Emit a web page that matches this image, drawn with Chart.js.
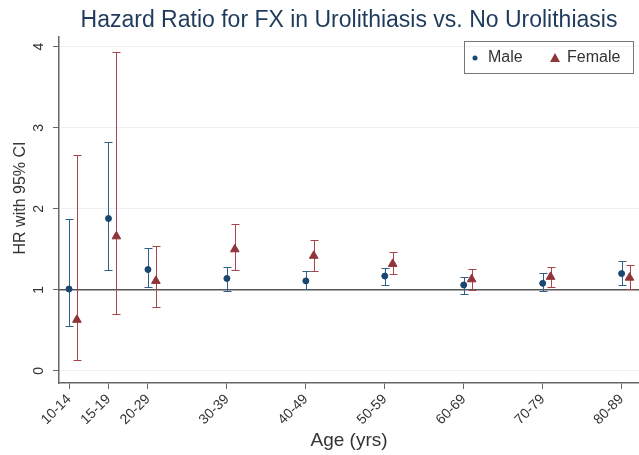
<!DOCTYPE html>
<html>
<head>
<meta charset="utf-8">
<script src="https://cdn.jsdelivr.net/npm/chart.js@4.4.1/dist/chart.umd.min.js"></script>
<style>
  html, body { margin: 0; padding: 0; background: #fff; }
</style>
</head>
<body>
<canvas id="hrChart" width="639" height="455"></canvas>
<script>
// age bands, plotted at the start of each band
const ageGroups = ["10-14", "15-19", "20-29", "30-39", "40-49", "50-59", "60-69", "70-79", "80-89"];
const ageStart = [10, 15, 20, 30, 40, 50, 60, 70, 80];

// hazard ratios with 95% CI
const maleHR   = [1.01, 1.88, 1.25, 1.14, 1.11, 1.17, 1.06, 1.08, 1.20];
const maleLow  = [0.55, 1.24, 1.03, 0.99, 1.01, 1.06, 0.95, 0.98, 1.06];
const maleHigh = [1.88, 2.83, 1.51, 1.28, 1.23, 1.27, 1.16, 1.21, 1.35];

const femaleHR   = [0.63, 1.66, 1.11, 1.50, 1.42, 1.32, 1.13, 1.16, 1.15];
const femaleLow  = [0.14, 0.70, 0.79, 1.24, 1.23, 1.19, 1.00, 1.03, 1.01];
const femaleHigh = [2.66, 3.94, 1.54, 1.81, 1.62, 1.47, 1.26, 1.28, 1.31];

const yTicks = [0, 1, 2, 3, 4];
const femaleShift = 1; // female markers sit just right of the male ones

const navy = "#1a476f";
const maroon = "#90353b";
const FONT = "'Liberation Sans', Arial, sans-serif";

Chart.defaults.font.family = FONT;

// CI whiskers, reference line, rotated y labels and legend box
const ciPlugin = {
    id: "ciBars",
    beforeDatasetsDraw(chart) {
        const ctx = chart.ctx;
        const area = chart.chartArea;
        const x = chart.scales.x;
        const y = chart.scales.y;

        ctx.save();
        let y1 = y.getPixelForValue(1);
        ctx.strokeStyle = "#555";
        ctx.lineWidth = 1.5;
        ctx.beginPath();
        ctx.moveTo(area.left, y1);
        ctx.lineTo(area.right, y1);
        ctx.stroke();

        chart.data.datasets.forEach(ds => {
            ctx.strokeStyle = ds.ciColor;
            ctx.lineWidth = 1;
            ds.data.forEach((p, j) => {
                let px = Math.round(x.getPixelForValue(p.x)) + 0.5;
                let top = Math.round(y.getPixelForValue(ds.ciHigh[j])) + 0.5;
                let bot = Math.round(y.getPixelForValue(ds.ciLow[j])) + 0.5;
                ctx.beginPath();
                ctx.moveTo(px, top);
                ctx.lineTo(px, bot);
                ctx.moveTo(px - 4, top);
                ctx.lineTo(px + 4, top);
                ctx.moveTo(px - 4, bot);
                ctx.lineTo(px + 4, bot);
                ctx.stroke();
            });
        });
        ctx.restore();
    },
    afterDraw(chart) {
        const ctx = chart.ctx;
        const area = chart.chartArea;
        const y = chart.scales.y;

        ctx.save();
        ctx.fillStyle = "#333";
        ctx.textAlign = "center";
        ctx.textBaseline = "middle";

        ctx.font = "14px " + FONT;
        y.ticks.forEach(t => {
            ctx.save();
            ctx.translate(area.left - 20, y.getPixelForValue(t.value));
            ctx.rotate(-Math.PI / 2);
            ctx.fillText(String(t.value), 0, 0);
            ctx.restore();
        });

        // y axis title
        ctx.font = "16px " + FONT;
        ctx.save();
        ctx.translate(21, (area.top + area.bottom) / 2 - 12);
        ctx.rotate(-Math.PI / 2);
        ctx.fillText("HR with 95% CI", 0, 0);
        ctx.restore();

        // legend
        let bx = area.right - 175, by = area.top + 4;
        ctx.strokeStyle = "#777";
        ctx.lineWidth = 1;
        ctx.strokeRect(bx + 0.5, by + 0.5, 169, 32);
        let cy = by + 17;
        ctx.font = "16px " + FONT;
        ctx.textAlign = "left";

        let male = chart.data.datasets[0];
        ctx.fillStyle = male.backgroundColor;
        ctx.beginPath();
        ctx.arc(bx + 11, cy, 2.5, 0, Math.PI * 2);
        ctx.fill();
        ctx.fillStyle = "#333";
        ctx.fillText(male.label, bx + 24, cy);

        let female = chart.data.datasets[1];
        ctx.fillStyle = female.backgroundColor;
        ctx.beginPath();
        ctx.moveTo(bx + 91, cy - 5);
        ctx.lineTo(bx + 96, cy + 4);
        ctx.lineTo(bx + 86, cy + 4);
        ctx.closePath();
        ctx.fill();
        ctx.fillStyle = "#333";
        ctx.fillText(female.label, bx + 103, cy);
        ctx.restore();
    }
};

new Chart(document.getElementById("hrChart"), {
    type: "scatter",
    data: {
        datasets: [
            {
                label: "Male",
                data: ageStart.map((a, i) => ({ x: a, y: maleHR[i] })),
                ciLow: maleLow,
                ciHigh: maleHigh,
                ciColor: "#2f5f8a",
                pointStyle: "circle",
                radius: 3,
                backgroundColor: navy,
                borderColor: navy,
                borderWidth: 1
            },
            {
                label: "Female",
                data: ageStart.map((a, i) => ({ x: a + femaleShift, y: femaleHR[i] })),
                ciLow: femaleLow,
                ciHigh: femaleHigh,
                ciColor: "#a8454b",
                pointStyle: "triangle",
                radius: 5,
                backgroundColor: maroon,
                borderColor: maroon,
                borderWidth: 1
            }
        ]
    },
    options: {
        responsive: false,
        animation: false,
        events: [],
        layout: { padding: 0, autoPadding: false },
        plugins: {
            legend: { display: false },
            tooltip: { enabled: false },
            title: {
                display: true,
                fullSize: false,
                text: "Hazard Ratio for FX in Urolithiasis vs. No Urolithiasis",
                color: "#1f3b5c",
                font: { size: 23, weight: "normal" },
                padding: { top: 7, bottom: 2.4 }
            }
        },
        scales: {
            x: {
                type: "linear",
                min: 8.73,
                max: 82.2,
                afterBuildTicks: s => { s.ticks = ageStart.map(v => ({ value: v })); },
                afterFit: s => {
                    s.height = 72;
                    s.paddingLeft = 0;
                    s.paddingRight = 0;
                },
                ticks: {
                    autoSkip: false,
                    minRotation: 45,
                    maxRotation: 45,
                    padding: 2,
                    color: "#333",
                    font: { size: 14 },
                    callback: (v, i) => ageGroups[i]
                },
                grid: { drawOnChartArea: false, tickLength: 6, tickColor: "#666" },
                border: { color: "#666", width: 1.5 },
                title: {
                    display: true,
                    text: "Age (yrs)",
                    color: "#333",
                    font: { size: 19 },
                    padding: { top: 0, bottom: 3 }
                }
            },
            y: {
                min: -0.15,
                max: 4.12,
                afterBuildTicks: s => { s.ticks = yTicks.map(v => ({ value: v })); },
                afterFit: s => { s.width = 59; },
                ticks: { display: false },
                grid: { color: "#eef0f3", tickLength: 6, tickColor: "#666" },
                border: { color: "#666", width: 1.5 }
            }
        }
    },
    plugins: [ciPlugin]
});
</script>
</body>
</html>
